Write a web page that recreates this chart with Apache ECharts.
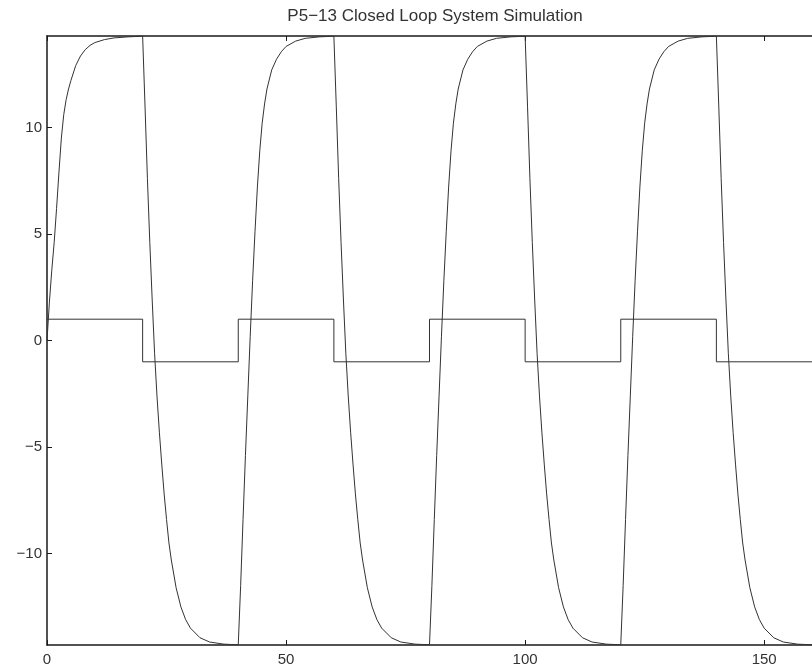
<!DOCTYPE html>
<html>
<head>
<meta charset="utf-8">
<title>P5-13 Closed Loop System Simulation</title>
<script src="https://cdn.jsdelivr.net/npm/echarts@6/dist/echarts.min.js"></script>
<style>
	html, body {
		margin: 0;
		padding: 0;
		background: #fff;
	}
	#chart_box {
		width: 812px;
		height: 672px;
	}
</style>
</head>
<body>
<div id="chart_box"></div>

<script type="text/javascript">
// square-wave reference input (held until next switch time)
var stepTime = [0, 20, 40, 60, 80, 100, 120, 140, 160];
var stepLevel = [1, -1, 1, -1, 1, -1, 1, -1, -1];

// closed loop output
var simTime = [
	0, 0.5, 1, 1.5, 2, 2.5, 3, 3.5, 4, 4.5, 5, 6, 7, 8, 9, 10, 12, 14, 17,
	20, 20.5, 21, 21.5, 22, 22.5, 23, 23.5, 24, 24.5, 25, 25.5, 26, 27, 28, 29, 30, 32, 34, 37,
	40, 40.5, 41, 41.5, 42, 42.5, 43, 43.5, 44, 44.5, 45, 45.5, 46, 47, 48, 49, 50, 52, 54, 57,
	60, 60.5, 61, 61.5, 62, 62.5, 63, 63.5, 64, 64.5, 65, 65.5, 66, 67, 68, 69, 70, 72, 74, 77,
	80, 80.5, 81, 81.5, 82, 82.5, 83, 83.5, 84, 84.5, 85, 85.5, 86, 87, 88, 89, 90, 92, 94, 97,
	100, 100.5, 101, 101.5, 102, 102.5, 103, 103.5, 104, 104.5, 105, 105.5, 106, 107, 108, 109, 110, 112, 114, 117,
	120, 120.5, 121, 121.5, 122, 122.5, 123, 123.5, 124, 124.5, 125, 125.5, 126, 127, 128, 129, 130, 132, 134, 137,
	140, 140.5, 141, 141.5, 142, 142.5, 143, 143.5, 144, 144.5, 145, 145.5, 146, 147, 148, 149, 150, 152, 154, 157,
	160
];
var simOutput = [
	0, 1.8, 3.3, 4.6, 6.2, 7.9, 9.5, 10.6, 11.3, 11.8, 12.2, 12.9, 13.35, 13.65, 13.85, 13.98, 14.12, 14.2, 14.25,
	14.28, 11.0, 7.6, 4.6, 1.9, -0.6, -2.6, -4.3, -5.8, -7.2, -8.4, -9.5, -10.3, -11.6, -12.5, -13.1, -13.5, -13.95, -14.15, -14.25,
	-14.28, -11.5, -8.4, -5.4, -2.6, 0.2, 2.8, 5.1, 7.2, 8.9, 10.2, 11.1, 11.8, 12.7, 13.2, 13.55, 13.8, 14.05, 14.18, 14.25,
	14.28, 11.0, 7.6, 4.6, 1.9, -0.6, -2.6, -4.3, -5.8, -7.2, -8.4, -9.5, -10.3, -11.6, -12.5, -13.1, -13.5, -13.95, -14.15, -14.25,
	-14.28, -11.5, -8.4, -5.4, -2.6, 0.2, 2.8, 5.1, 7.2, 8.9, 10.2, 11.1, 11.8, 12.7, 13.2, 13.55, 13.8, 14.05, 14.18, 14.25,
	14.28, 11.0, 7.6, 4.6, 1.9, -0.6, -2.6, -4.3, -5.8, -7.2, -8.4, -9.5, -10.3, -11.6, -12.5, -13.1, -13.5, -13.95, -14.15, -14.25,
	-14.28, -11.5, -8.4, -5.4, -2.6, 0.2, 2.8, 5.1, 7.2, 8.9, 10.2, 11.1, 11.8, 12.7, 13.2, 13.55, 13.8, 14.05, 14.18, 14.25,
	14.28, 11.0, 7.6, 4.6, 1.9, -0.6, -2.6, -4.3, -5.8, -7.2, -8.4, -9.5, -10.3, -11.6, -12.5, -13.1, -13.5, -13.95, -14.15, -14.25,
	-14.28
];

var xTicks = [0, 50, 100, 150];
var yTicks = [-10, -5, 0, 5, 10];
var xRange = [0, 160];
var yRange = [-14.29, 14.29];

var myChart = echarts.init(document.getElementById('chart_box'));

var outputData = simTime.map(function(t, i) { return [t, simOutput[i]]; });
var inputData = stepTime.map(function(t, i) { return [t, stepLevel[i]]; });

var frameColor = '#1a1a1a';
var labelStyle = {
	color: '#333',
	fontFamily: 'Liberation Sans, Arial, sans-serif',
	fontSize: 15
};
// matlab prints a real minus sign
function tickText(v) {
	return String(v).replace('-', '\u2212');
}

var option = {
	backgroundColor: '#fff',
	animation: false,
	title: {
		text: 'P5\u221213 Closed Loop System Simulation',
		left: 430,
		top: 3,
		textAlign: 'center',
		textStyle: {
			color: '#333',
			fontFamily: 'Liberation Sans, Arial, sans-serif',
			fontSize: 17,
			fontWeight: 'normal'
		}
	},
	grid: {
		left: 47,
		top: 36,
		width: 774,
		height: 609
	},
	xAxis: [
		{
			type: 'value',
			position: 'bottom',
			min: xRange[0],
			max: xRange[1],
			axisLine: { show: true, onZero: false, lineStyle: { color: frameColor, width: 1.5 } },
			axisTick: { show: true, inside: true, length: 5, customValues: xTicks, lineStyle: { color: frameColor } },
			axisLabel: Object.assign({ margin: 7, customValues: xTicks, formatter: tickText }, labelStyle),
			splitLine: { show: false }
		},
		{
			type: 'value',
			position: 'top',
			min: xRange[0],
			max: xRange[1],
			axisLine: { show: true, onZero: false, lineStyle: { color: frameColor, width: 1.5 } },
			axisTick: { show: true, inside: true, length: 5, customValues: xTicks, lineStyle: { color: frameColor } },
			axisLabel: { show: false },
			splitLine: { show: false }
		}
	],
	yAxis: [
		{
			type: 'value',
			position: 'left',
			min: yRange[0],
			max: yRange[1],
			axisLine: { show: true, onZero: false, lineStyle: { color: frameColor, width: 1.5 } },
			axisTick: { show: true, inside: true, length: 5, customValues: yTicks, lineStyle: { color: frameColor } },
			axisLabel: Object.assign({ margin: 5, customValues: yTicks, formatter: tickText }, labelStyle),
			splitLine: { show: false }
		}
	],
	series: [
		{
			name: 'output',
			type: 'line',
			data: outputData,
			symbol: 'none',
			lineStyle: { color: '#333', width: 1 }
		},
		{
			name: 'input',
			type: 'line',
			step: 'end',
			data: inputData,
			symbol: 'none',
			lineStyle: { color: '#333', width: 1 }
		}
	]
};
myChart.setOption(option);
</script>
</body>
</html>
